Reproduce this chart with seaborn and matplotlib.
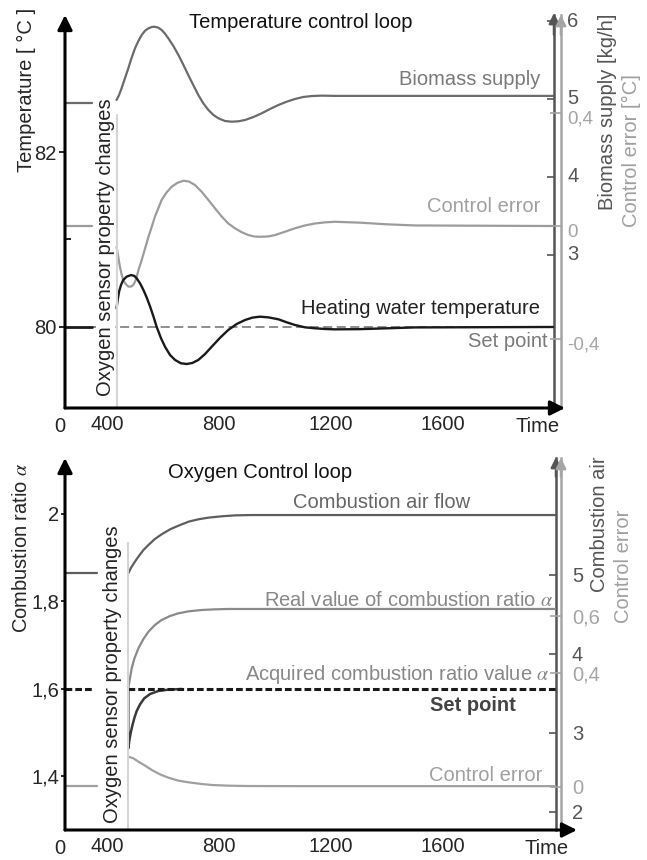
import matplotlib.pyplot as plt
import seaborn as sns
from matplotlib.ticker import FixedLocator
from matplotlib.transforms import ScaledTranslation

# ---------------- data: temperature control loop (top) ----------------
time_ticks = [400, 800, 1200, 1600]
time_ticklabels = ["400", "800", "1200", "1600"]

temp_ticks = [80, 82]
temp_ticklabels = ["80", "82"]
bio_ticks = [3, 4, 5, 6]
bio_ticklabels = ["3", "4", "5", "6"]
err_top_ticks = [-0.4, 0, 0.4]
err_top_ticklabels = ["-0,4", "0", "0,4"]

t_sensor_top = 436

pre_t_top = [250, 346]
bio_pre = [4.95, 4.95]
err_pre_top = [0.0, 0.0]
temp_pre = [80.0, 80.0]

bio_t = [434, 443, 452, 464, 476, 488, 500, 512, 524, 536, 548, 560, 569, 583,
         595, 607, 619, 637, 655, 673, 690, 708, 726, 744, 762, 780, 798, 821,
         845, 869, 893, 923, 952, 982, 1012, 1042, 1071, 1101, 1131, 1167, 1214,
         1993]
bio_v = [4.987, 5.051, 5.137, 5.265, 5.393, 5.530, 5.650, 5.744, 5.821, 5.876,
         5.906, 5.923, 5.927, 5.915, 5.885, 5.838, 5.778, 5.679, 5.564, 5.436,
         5.308, 5.179, 5.051, 4.944, 4.859, 4.795, 4.752, 4.718, 4.709, 4.714,
         4.731, 4.769, 4.816, 4.872, 4.923, 4.966, 5.0, 5.026, 5.038, 5.043,
         5.04, 5.04]

err_top_t = [434, 440, 446, 452, 458, 467, 476, 486, 494, 500, 506, 514, 524,
             536, 548, 560, 571, 583, 595, 613, 631, 652, 673, 693, 714, 738,
             762, 786, 810, 833, 857, 881, 905, 926, 946, 974, 1000, 1036, 1071,
             1107, 1143, 1179, 1214, 1300, 1400, 1500, 1993]
err_top_v = [-0.073, -0.108, -0.144, -0.170, -0.191, -0.205, -0.214, -0.214,
             -0.208, -0.197, -0.179, -0.150, -0.120, -0.079, -0.038, -0.002,
             0.033, 0.062, 0.092, 0.119, 0.139, 0.153, 0.160, 0.157, 0.145,
             0.121, 0.092, 0.062, 0.033, 0.009, -0.008, -0.022, -0.032, -0.037,
             -0.038, -0.037, -0.032, -0.020, -0.008, 0.002, 0.009, 0.013, 0.015,
             0.012, 0.006, 0.002, 0.0]

temp_t = [434, 438, 443, 450, 458, 470, 486, 498, 506, 518, 530, 542, 554, 566,
          577, 593, 607, 625, 643, 664, 685, 705, 726, 750, 774, 804, 833, 863,
          893, 919, 946, 976, 1012, 1042, 1071, 1107, 1143, 1179, 1214, 1300,
          1400, 1500, 1993]
temp_v = [80.213, 80.309, 80.404, 80.48, 80.537, 80.575, 80.594, 80.583,
          80.556, 80.499, 80.423, 80.335, 80.232, 80.118, 80.004, 79.870,
          79.775, 79.68, 79.623, 79.585, 79.577, 79.589, 79.623, 79.691,
          79.775, 79.878, 79.966, 80.034, 80.08, 80.107, 80.118, 80.110,
          80.088, 80.053, 80.023, 79.996, 79.985, 79.977, 79.973, 79.975,
          79.985, 79.995, 80.0]

setpoint_top_t = [350, 1993]
setpoint_top_v = [80, 80]

# ---------------- data: oxygen control loop (bottom) ----------------
ratio_ticks = [1.4, 1.6, 1.8, 2.0]
ratio_ticklabels = ["1,4", "1,6", "1,8", "2"]
air_ticks = [2, 3, 4, 5]
air_ticklabels = ["2", "3", "4", "5"]
err_bot_ticks = [0, 0.4, 0.6]
err_bot_ticklabels = ["0", "0,4", "0,6"]

t_sensor_bot = 476

air_pre_t = [250, 366]
air_pre = [5.02, 5.02]
air_t = [476, 486, 498, 512, 530, 548, 571, 595, 625, 655, 691, 726, 762, 810,
         857, 917, 1012, 2003]
air_v = [5.021, 5.093, 5.160, 5.232, 5.316, 5.380, 5.456, 5.515, 5.578, 5.624,
         5.675, 5.705, 5.726, 5.743, 5.755, 5.759, 5.759, 5.759]

ratio_t = [476, 481, 488, 498, 512, 530, 548, 571, 595, 625, 655, 691, 738, 786,
           833, 952, 2003]
ratio_v = [1.6015, 1.6206, 1.6472, 1.6701, 1.693, 1.7143, 1.731, 1.7463, 1.7577,
           1.7669, 1.773, 1.7775, 1.7806, 1.7821, 1.7829, 1.7829, 1.7829]

acq_t = [476, 476, 480, 485, 491, 498, 506, 518, 533, 554, 583, 619, 667]
acq_v = [1.6015, 1.4644, 1.4834, 1.501, 1.5177, 1.5345, 1.5497, 1.565, 1.5787,
         1.5886, 1.5954, 1.5985, 1.6]

setpoint_bot_t1 = [250, 350]
setpoint_bot_t2 = [476, 2003]
setpoint_bot_v = [1.6, 1.6]

err_bot_pre_t = [250, 364]
err_bot_pre = [0.002, 0.002]
err_bot_t = [476, 494, 512, 536, 560, 589, 619, 655, 691, 738, 774, 833, 893,
             1071, 2003]
err_bot_v = [0.1064, 0.1006, 0.0889, 0.0749, 0.0596, 0.0444, 0.0327, 0.0222,
             0.0164, 0.0105, 0.007, 0.0047, 0.0035, 0.003, 0.003]

# ---------------- style ----------------
sns.set_style("white")
plt.rcParams['font.family'] = ['Liberation Sans', 'DejaVu Sans']
plt.rcParams['mathtext.fontset'] = 'stix'
FS = 14.5

DARK = "#5e5e5e"
MID = "#8a8a8a"
LIGHT = "#a0a0a0"


def curve(ax, t, v, color, lw=1.6, **kw):
    sns.lineplot(x=t, y=v, ax=ax, color=color, linewidth=lw, estimator=None,
                 sort=False, legend=False, **kw)


def arrow(ax, x0, y0, x1, y1, color, lw, ms):
    ax.annotate('', xy=(x1, y1), xytext=(x0, y0), xycoords='axes fraction',
                textcoords='axes fraction',
                arrowprops=dict(arrowstyle='-|>', color=color, lw=lw,
                                mutation_scale=ms, shrinkA=0, shrinkB=0))


def setup_twin(tw, spine_pos, color, ticks, labels, pad, length, fs=FS):
    for s in ['left', 'top', 'bottom']:
        tw.spines[s].set_visible(False)
    tw.spines['right'].set_position(('axes', spine_pos))
    tw.spines['right'].set_color(color)
    tw.spines['right'].set_linewidth(1.8)
    tw.yaxis.set_major_locator(FixedLocator(ticks))
    tw.set_yticklabels(labels)
    tw.tick_params(axis='y', direction='in', length=length, width=1.2,
                   pad=pad, colors=color, labelsize=fs)
    tw.set_xlabel("")
    tw.set_ylabel("")


def nudge_labels(tw, dy_px):
    off = ScaledTranslation(0, dy_px / 100, fig.dpi_scale_trans)
    for lab in tw.get_yticklabels():
        lab.set_transform(lab.get_transform() + off)


fig = plt.figure(figsize=(6.47, 8.60), dpi=100)

# ================= top panel =================
ax = fig.add_axes([65 / 647, 452 / 860, 489 / 647, 393 / 860])
ax_bio = ax.twinx()
ax_err = ax.twinx()

curve(ax_bio, pre_t_top, bio_pre, "#6b6b6b")
curve(ax_bio, bio_t, bio_v, "#6b6b6b")
curve(ax_err, pre_t_top, err_pre_top, "#9c9c9c")
curve(ax_err, err_top_t, err_top_v, "#9c9c9c")
curve(ax, setpoint_top_t, setpoint_top_v, "#858585", lw=1.3,
      linestyle=(0, (5, 2.5)))
curve(ax, pre_t_top, temp_pre, "#1a1a1a", lw=2.0)
curve(ax, temp_t, temp_v, "#1a1a1a", lw=1.7)
ax.axvline(t_sensor_top, ymin=0, ymax=0.7455, color="#d4d4d4", lw=1.5)

ax.set_xlim(250, 1996)
ax.set_ylim(79.074, 83.566)
ax_bio.set_ylim(1.038, 6.077)
ax_err.set_ylim(-0.643, 0.7456)

ax.set_zorder(3)
ax.patch.set_visible(False)
ax_bio.set_zorder(1)
ax_err.set_zorder(2)

for s in ax.spines.values():
    s.set_visible(False)
ax.set_xticks(time_ticks)
ax.set_xticklabels(time_ticklabels)
ax.set_yticks(temp_ticks)
ax.set_yticklabels(temp_ticklabels)
ax.yaxis.set_minor_locator(FixedLocator([81]))
ax.tick_params(axis='x', direction='in', length=5, width=1.4, pad=5, labelsize=FS)
ax.tick_params(axis='y', direction='out', length=4, width=1.4, pad=2, labelsize=FS)
ax.tick_params(axis='y', which='minor', direction='in', length=4, width=1.4)
ax.set_xlabel("")
ax.set_ylabel("")

setup_twin(ax_bio, 1.0, "#555555", bio_ticks, bio_ticklabels, 9.5, 5)
setup_twin(ax_err, 1 + 7 / 489, "#a5a5a5", err_top_ticks, err_top_ticklabels,
           4.5, 8, fs=13.5)
nudge_labels(ax_bio, 2)
nudge_labels(ax_err, -4)

arrow(ax, 0, 0, 0, 1.0, "black", 2.2, 22)
arrow(ax, 0, 0, 1.0225, 0, "black", 2.2, 22)
arrow(ax, 1.0, 0.95, 1.0, 1.005, "#555555", 1.8, 15)
arrow(ax, 1 + 7 / 489, 0.95, 1 + 7 / 489, 1.0, "#a5a5a5", 1.8, 15)

ax.text(0.4826, 0.982, "Temperature control loop", transform=ax.transAxes,
        ha='center', va='center', fontsize=FS, color="#111111")
ax.text(0.0818, 0.41, "Oxygen sensor property changes", transform=ax.transAxes,
        rotation=90, ha='center', va='center', fontsize=FS, color="#222222",
        bbox=dict(fc='white', ec='none', pad=0))
ax.text(-0.079, 0.809, "Temperature [ °C ]", transform=ax.transAxes,
        rotation=90, ha='center', va='center', fontsize=FS)
ax.text(1.1084, 0.753, "Biomass supply [kg/h]", transform=ax.transAxes,
        rotation=90, ha='center', va='center', fontsize=FS, color="#555555")
ax.text(1.1575, 0.656, "Control error [°C]", transform=ax.transAxes,
        rotation=90, ha='center', va='center', fontsize=FS, color="#a0a0a0")
ax.text(-0.0102, -0.048, "0", transform=ax.transAxes, ha='center', va='center',
        fontsize=FS)
ax.text(0.967, -0.048, "Time", transform=ax.transAxes, ha='center', va='center',
        fontsize=FS)

ax_bio.text(1946, 5.244, "Biomass supply", ha='right', va='center',
            fontsize=FS, color="#7a7a7a")
ax_err.text(1946, 0.0707, "Control error", ha='right', va='center',
            fontsize=FS, color="#a0a0a0")
ax.text(1946, 80.217, "Heating water temperature", ha='right', va='center',
        fontsize=FS, color="#222222")
ax.text(1975, 79.829, "Set point", ha='right', va='center', fontsize=FS,
        color="#7a7a7a")

# ================= bottom panel =================
bx = fig.add_axes([65 / 647, 30 / 860, 491 / 647, 372 / 860])
bx_air = bx.twinx()
bx_err = bx.twinx()

curve(bx_air, air_pre_t, air_pre, DARK)
curve(bx_air, air_t, air_v, DARK)
curve(bx, ratio_t, ratio_v, MID)
curve(bx_err, err_bot_pre_t, err_bot_pre, LIGHT)
curve(bx_err, err_bot_t, err_bot_v, LIGHT)
curve(bx, acq_t, acq_v, "#3a3a3a", lw=1.8)
curve(bx, setpoint_bot_t1, setpoint_bot_v, "#1a1a1a", lw=2.2,
      linestyle=(0, (2.2, 1.0)))
curve(bx, setpoint_bot_t2, setpoint_bot_v, "#1a1a1a", lw=2.2,
      linestyle=(0, (2.2, 1.0)))
bx.axvline(t_sensor_bot, ymin=0, ymax=0.7715, color="#d4d4d4", lw=1.5)

bx.set_xlim(250, 2003)
bx.set_ylim(1.2777, 2.128)
bx_air.set_ylim(1.772, 6.481)
bx_err.set_ylim(-0.1509, 1.1544)

bx.set_zorder(3)
bx.patch.set_visible(False)
bx_air.set_zorder(1)
bx_err.set_zorder(2)

for s in bx.spines.values():
    s.set_visible(False)
bx.set_xticks(time_ticks)
bx.set_xticklabels(time_ticklabels)
bx.set_yticks(ratio_ticks)
bx.set_yticklabels(ratio_ticklabels)
bx.tick_params(axis='x', direction='in', length=5, width=1.4, pad=5, labelsize=FS)
bx.tick_params(axis='y', direction='out', length=3, width=1.4, pad=1, labelsize=FS)
bx.set_xlabel("")
bx.set_ylabel("")

setup_twin(bx_air, 1.0, "#555555", air_ticks, air_ticklabels, 11.5, 5)
setup_twin(bx_err, 1 + 5 / 491, "#a5a5a5", err_bot_ticks, err_bot_ticklabels, 8, 8)

arrow(bx, 0, 0, 0, 1.0, "black", 2.2, 22)
arrow(bx, 0, 0, 1.0428, 0, "black", 2.2, 22)
arrow(bx, 1.0, 0.95, 1.0, 1.0027, "#555555", 1.8, 15)
arrow(bx, 1 + 5 / 491, 0.95, 1 + 5 / 491, 1.0, "#a5a5a5", 1.8, 15)

bx.text(0.21, 0.962, "Oxygen Control loop", transform=bx.transAxes,
        ha='left', va='center', fontsize=FS, color="#111111")
bx.text(0.0977, 0.42, "Oxygen sensor property changes", transform=bx.transAxes,
        rotation=90, ha='center', va='center', fontsize=FS, color="#222222",
        bbox=dict(fc='white', ec='none', pad=0))
bx.text(-0.0896, 0.758, r"Combustion ratio $\alpha$", transform=bx.transAxes,
        rotation=90, ha='center', va='center', fontsize=FS)
bx.text(1.0896, 0.823, "Combustion air", transform=bx.transAxes,
        rotation=90, ha='center', va='center', fontsize=FS, color="#555555")
bx.text(1.1365, 0.71, "Control error", transform=bx.transAxes,
        rotation=90, ha='center', va='center', fontsize=FS, color="#a0a0a0")
bx.text(-0.0102, -0.0484, "0", transform=bx.transAxes, ha='center', va='center',
        fontsize=FS)
bx.text(0.9817, -0.0484, "Time", transform=bx.transAxes, ha='center', va='center',
        fontsize=FS)

bx_air.text(1696, 5.924, "Combustion air flow", ha='right', va='center',
            fontsize=FS, color="#666666")
bx.text(1993, 1.803, r"Real value of combustion ratio $\alpha$", ha='right',
        va='center', fontsize=FS, color="#888888")
bx.text(1982, 1.632, r"Acquired combustion ratio value $\alpha$", ha='right',
        va='center', fontsize=FS, color="#888888")
bx.text(1707, 1.563, "Set point", ha='center', va='center', fontsize=FS,
        color="#444444", fontweight='bold')
bx_err.text(1953, 0.042, "Control error", ha='right', va='center',
            fontsize=FS, color="#a0a0a0")

fig.savefig("out.png", dpi=100)
